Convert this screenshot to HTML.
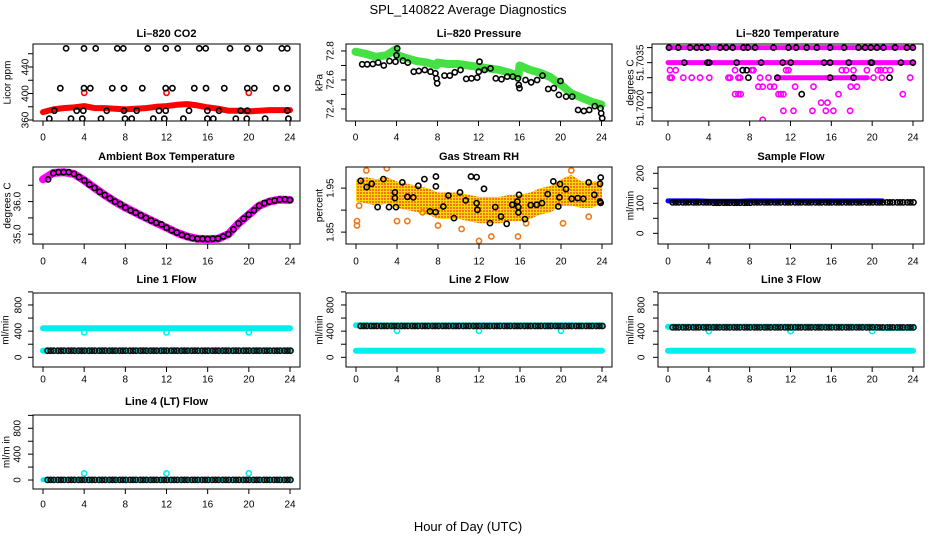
<!DOCTYPE html>
<html><head><meta charset="utf-8"><style>
html,body{margin:0;padding:0;background:#fff}
svg{display:block;font-family:"Liberation Sans",sans-serif}
</style></head><body>
<svg id="chart" width="936" height="540" viewBox="0 0 936 540" xmlns="http://www.w3.org/2000/svg">
<defs>
<pattern id="rhpat" width="3" height="3" patternUnits="userSpaceOnUse"><rect width="3" height="3" fill="#ffd800"/><rect width="2" height="2" fill="#f07818"/></pattern>
</defs>
<rect width="936" height="540" fill="#fff"/>
<text x="468" y="14" text-anchor="middle" font-size="13">SPL_140822  Average Diagnostics</text>
<text x="468" y="531" text-anchor="middle" font-size="13">Hour of Day (UTC)</text>
</svg>
<script>
// ---------- data ----------
const xTicks = [0,4,8,12,16,20,24];
const hourly = [0,1,2,3,4,5,6,7,8,9,10,11,12,13,14,15,16,17,18,19,20,21,22,23,24];

// CO2
const co2Band = [372,376,378,379,381,378,378,377,376,377,378,380,381,383,384,382,379,377,374,374,373,374,375,375,375];
const co2RedH = [4,12,20];
const co2RedV = [401,401,401];
const co2H468 = [2.24,3.98,5.12,7.22,7.8,10.17,11.92,13.09,15.19,15.81,18.17,19.85,21.05,23.2,23.74];
const co2H408 = [1.68,3.98,4.6,6.73,7.87,9.65,11.92,12.57,14.7,15.84,17.62,19.85,20.53,22.67,23.74];
const co2H374 = [1.1,3.27,3.92,6.19,7.87,9.1,11.27,11.92,14.19,15.97,17.1,19.21,19.85,23.74];
const co2H362 = [0.61,2.72,3.82,5.64,7.97,8.62,10.72,11.79,13.64,15.97,16.55,18.73,19.8,21.58,23.84];
const co2Levels = [468,408,374,362];

// Pressure
const presBandH = [0,1,2,3,3.9,4.1,5,6,7,7.9,8,9,10,11,12,13,14,15,15.9,16,17,18,19,20,21,22,23,24];
const presBandV = [72.795,72.78,72.76,72.77,72.81,72.77,72.75,72.73,72.72,72.70,72.72,72.71,72.71,72.70,72.69,72.68,72.67,72.65,72.63,72.70,72.67,72.65,72.62,72.57,72.51,72.48,72.45,72.43];
const presH = [0.65,1.14,1.69,2.21,2.76,3.32,3.9,4.0,4.07,4.62,5.1,5.69,6.18,6.76,7.32,7.8,7.9,7.97,8.68,9.2,9.69,10.24,10.8,11.32,11.87,12.03,12.1,12.59,13.17,13.69,14.24,14.8,15.35,15.84,15.93,16.0,16.59,17.14,17.72,18.24,18.8,19.35,19.84,20.0,20.55,21.14,21.72,22.28,22.8,23.35,23.9,23.97,24.07];
const presV = [72.708,72.708,72.71,72.72,72.70,72.73,72.726,72.77,72.818,72.733,72.72,72.657,72.662,72.669,72.657,72.646,72.611,72.577,72.63,72.63,72.653,72.669,72.607,72.611,72.616,72.657,72.726,72.669,72.68,72.611,72.605,72.623,72.623,72.611,72.566,72.543,72.6,72.584,72.6,72.63,72.538,72.543,72.497,72.593,72.485,72.485,72.393,72.386,72.393,72.42,72.405,72.37,72.336];

// Li-820 temperature (discrete levels)
const tLevels = [51.7040,51.7035,51.70325,51.7030,51.7027,51.70245,51.70217,51.7019,51.7016];
const tBandLevel = [51.7040,51.7035,51.7030];
const tBandStart = [0,0,10.8];
const tBandEnd = [24,24,19.5];
const tPink = [
 [],
 [],
 [0.2,0.75,6.57,7.32,8.2,8.37,11.57,11.8,17.03,17.45,18.17,19.48,20.56,20.85,21.27,21.76],
 [0.2,0.36,1.5,2.32,3.14,4.05,5.92,6.08,6.9,7.06,9.02,9.84,20.13,20.95,23.73],
 [8.86,9.28,10.0,10.39,12.45,14.25,17.9,18.5],
 [6.57,6.9,7.12,10.82,11.05,11.3,16.7,23.0],
 [15.0,15.62],
 [11.3,12.29,14.15,15.46,16.2,17.84],
 [9.28]
];
const tBlack = [
 [0.1,1.01,2.16,2.81,3.3,3.86,5.1,5.69,6.34,7.39,7.81,8.53,10.33,11.8,12.55,13.59,14.58,15.88,17.25,18.66,19.31,19.87,20.46,21.1,22.25,23.4,23.99],
 [1.6,3.86,4.05,6.73,9.12,11.24,12.03,15.29,15.88,17.71,19.87,19.97,22.81,23.99],
 [7.32,7.71],
 [7.88,10.72,15.88,18.17,21.7],
 [],
 [13.1],
 [],[],[]
];

// Ambient box temperature
const ambBand = [36.68,36.88,36.9,36.85,36.65,36.42,36.2,36.0,35.82,35.66,35.5,35.35,35.2,35.05,34.93,34.86,34.85,34.86,35.0,35.33,35.6,35.87,36.0,36.06,36.05];
const ambBlackH = [0.5,1,1.5,2,2.5,3,3.5,4,4.5,5,5.5,6,6.5,7,7.5,8,8.5,9,9.5,10,10.5,11,11.5,12,12.5,13,13.5,14,14.5,15,15.5,16,16.5,17,17.5,18,18.5,19,19.5,20,20.5,21,21.5,22,22.5,23,23.5,24];
const ambBlackV = [36.68,36.87,36.9,36.9,36.9,36.85,36.75,36.65,36.52,36.42,36.3,36.2,36.1,36.0,35.92,35.82,35.73,35.66,35.58,35.5,35.42,35.35,35.3,35.2,35.12,35.05,34.98,34.93,34.88,34.86,34.86,34.85,34.86,34.87,34.93,35.0,35.15,35.33,35.48,35.6,35.73,35.87,35.95,36.0,36.03,36.06,36.07,36.05];

// Gas stream RH
const rhCenter = [1.945,1.945,1.94,1.945,1.935,1.93,1.925,1.92,1.91,1.91,1.91,1.905,1.90,1.90,1.90,1.905,1.905,1.91,1.92,1.925,1.94,1.945,1.935,1.935,1.94];
const rhHalf = [0.025,0.03,0.03,0.03,0.03,0.03,0.03,0.03,0.03,0.03,0.03,0.03,0.03,0.03,0.03,0.03,0.03,0.03,0.03,0.03,0.03,0.035,0.03,0.03,0.025];
const rhOutH = [0.1,0.1,0.3,1,3,4,5,6.5,8,10.3,12,13.2,15.8,16.6,20.2,21,22.7];
const rhOutV = [1.875,1.865,1.91,1.99,1.995,1.875,1.875,1.895,1.865,1.857,1.83,1.84,1.84,1.87,1.87,1.99,1.885];
const rhH = [0.46,1.04,1.53,2.11,2.67,3.22,3.8,3.8,3.9,4.52,5.01,5.59,6.08,6.67,7.22,7.77,7.8,7.8,8.52,9.01,9.56,10.15,10.7,11.22,11.77,11.84,11.77,12.49,13.07,13.59,14.15,14.7,15.25,15.74,15.84,15.84,15.9,16.49,17.04,17.63,18.15,18.7,19.25,19.74,19.84,19.9,20.49,21.04,21.63,22.18,22.7,23.25,23.8,23.87,23.87,23.8];
const rhV = [1.9667,1.9523,1.9598,1.9068,1.9705,1.9068,1.9402,1.9273,1.9068,1.9629,1.9303,1.9288,1.9553,1.9705,1.897,1.8955,1.9765,1.9538,1.9083,1.9333,1.8818,1.9402,1.922,1.9765,1.975,1.9008,1.9159,1.9485,1.8705,1.9068,1.8856,1.8689,1.9121,1.9197,1.9068,1.8947,1.9348,1.8795,1.9114,1.9121,1.9159,1.9364,1.9652,1.9083,1.9288,1.9591,1.9477,1.9258,1.9273,1.9258,1.9629,1.9348,1.9197,1.9165,1.9742,1.9598];

// Sample flow
const sfBlue = [108,108,108,108,107,107,107,107,108,108,108,108,108,108,108,108,108,108,108,108,108,108];
const sfBlack = [103,103,103,103,102,102,102,102,103,103,103,103,103,103,103,103,103,103,103,103,103,103,103,103];

// Line flows
const l1CyanHi = [443,443,443,443,443,443,443,443,443,443,443,443,443,443,443,443,443,443,443,443,443,443,443,443,443];
const l1CyanLo = [100,100,100,100,100,100,100,100,100,100,100,100,100,100,100,100,100,100,100,100,100,100,100,100,100];
const l1Black = [101,101,101,101,101,101,101,101,101,101,101,101,101,101,101,101,101,101,101,101,101,101,101,101];
const l1DipV = [382,382,382];
const l2CyanHi = [490,488,488,488,488,488,488,488,488,488,488,488,488,488,488,488,488,488,488,488,488,488,488,488,488];
const l2CyanLo = [100,100,100,100,100,100,100,100,100,100,100,100,100,100,100,100,100,100,100,100,100,100,100,100,100];
const l2Black = [478,478,478,478,478,478,478,478,478,478,478,478,478,478,478,478,478,478,478,478,478,478,478,478];
const l2DipV = [406,406,406];
const l3CyanHi = [468,468,468,468,468,468,468,468,468,468,468,468,468,468,468,468,468,468,468,468,468,450,450,450,450];
const l3CyanLo = [100,100,100,100,100,100,100,100,100,100,100,100,100,100,100,100,100,100,100,100,100,100,100,100,100];
const l3Black = [458,458,458,458,458,458,458,458,458,458,458,458,458,458,458,458,458,458,458,458,458,458,458,458];
const l3DipV = [401,401,401];
const l4Cyan = [5,5,5,5,5,5,5,5,5,5,5,5,5,5,5,5,5,5,5,5,5,5,5,5,5];
const l4Black = [2,2,2,2,2,2,2,2,2,2,2,2,2,2,2,2,2,2,2,2,2,2,2,2];
const l4DipV = [103,103,103];
const dipH = [4,12,20];
const blackOffsets = [0.45,0.75,1.05];

// ---------- drawing ----------
const NS = 'http://www.w3.org/2000/svg';
const svg = document.getElementById('chart');
function mk(tag, parent){ const e = document.createElementNS(NS, tag); parent.appendChild(e); return e; }

function makePanel(o){
  const g = mk('g', svg);
  
  
  const [l,t,r,b] = o.box;
  const xs = h => o.x0 + (o.x24 - o.x0) * h / 24;
  const ys = v => b - (v - o.ybot) / (o.ytop - o.ybot) * (b - t);
  const plot = mk('g', g);
  
  
  const cp = mk('clipPath', g); cp.setAttribute('id', 'cp-' + o.name);
  const cr = mk('rect', cp); cr.setAttribute('x', l); cr.setAttribute('y', t); cr.setAttribute('width', r - l); cr.setAttribute('height', b - t);
  plot.setAttribute('clip-path', 'url(#cp-' + o.name + ')');
  const ti = mk('text', g);
  ti.setAttribute('x', (l + r) / 2); ti.setAttribute('y', o.titleY);
  ti.setAttribute('text-anchor', 'middle'); ti.setAttribute('font-size', '11'); ti.setAttribute('font-weight', 'bold');
  ti.setAttribute('dominant-baseline', 'middle');
  
  
  ti.textContent = o.title;
  const xa = mk('g', g);
  
  
  xTicks.forEach(v => {
    const x = xs(v);
    const tk = mk('line', xa);
    tk.setAttribute('x1', x); tk.setAttribute('x2', x); tk.setAttribute('y1', b); tk.setAttribute('y2', b + 5);
    tk.setAttribute('stroke', '#000'); tk.setAttribute('stroke-width', '1');
    
    
    const tx = mk('text', xa);
    tx.setAttribute('x', x); tx.setAttribute('y', o.xlabY); tx.setAttribute('text-anchor', 'middle');
    tx.setAttribute('dominant-baseline', 'middle'); tx.setAttribute('font-size', '10');
    
    
    tx.textContent = String(v);
  });
  const ya = mk('g', g);
  
  
  o.yticks.forEach(v => {
    const y = ys(v);
    const tk = mk('line', ya);
    tk.setAttribute('x1', l - 5); tk.setAttribute('x2', l); tk.setAttribute('y1', y); tk.setAttribute('y2', y);
    tk.setAttribute('stroke', '#000'); tk.setAttribute('stroke-width', '1');
    
    
  });
  o.ylabels.forEach((v, i) => {
    const y = ys(v);
    const tx = mk('text', ya);
    tx.setAttribute('transform', 'translate(' + o.ylabX + ',' + y + ') rotate(-90)');
    tx.setAttribute('text-anchor', 'middle'); tx.setAttribute('dominant-baseline', 'middle');
    tx.setAttribute('font-size', '10');
    
    
    tx.textContent = o.ylabelText ? o.ylabelText[i] : String(v);
  });
  const yt = mk('text', ya);
  yt.setAttribute('transform', 'translate(' + o.ytitleX + ',' + (t + b) / 2 + ') rotate(-90)');
  yt.setAttribute('text-anchor', 'middle'); yt.setAttribute('dominant-baseline', 'middle');
  yt.setAttribute('font-size', '10');
  
  
  yt.textContent = o.ytitle;
  const p = {g, plot, xs, ys, box: o.box};
  p.finish = function(){
    const bx = mk('rect', g);
    bx.setAttribute('x', l); bx.setAttribute('y', t); bx.setAttribute('width', r - l); bx.setAttribute('height', b - t);
    bx.setAttribute('fill', 'none'); bx.setAttribute('stroke', '#000'); bx.setAttribute('stroke-width', '1');
    
    
  };
  return p;
}

function band(p, hs, vs, color, w, name){
  const pl = mk('polyline', p.plot);
  pl.setAttribute('points', hs.map((h, i) => p.xs(h).toFixed(1) + ',' + p.ys(vs[i]).toFixed(1)).join(' '));
  pl.setAttribute('fill', 'none'); pl.setAttribute('stroke', color); pl.setAttribute('stroke-width', w);
  pl.setAttribute('stroke-linejoin', 'round'); pl.setAttribute('stroke-linecap', 'round');
  
  
}
function pts(p, hs, vs, color, name, r){
  const g = mk('g', p.plot);
  
  
  hs.forEach((h, i) => {
    const c = mk('circle', g);
    c.setAttribute('cx', p.xs(h).toFixed(1)); c.setAttribute('cy', p.ys(vs[i]).toFixed(1));
    c.setAttribute('r', r || 2.6); c.setAttribute('fill', 'none');
    c.setAttribute('stroke', color); c.setAttribute('stroke-width', '1.6');
    
    
  });
}
function hourlyBlack(p, vals, color, name){
  const hs = [], vs = [];
  vals.forEach((v, i) => blackOffsets.forEach(off => { hs.push(i + off); vs.push(v); }));
  pts(p, hs, vs, color, name);
}

// Panel 1: CO2
const p1 = makePanel({name:'panel-li820-co2', title:'Li\u2013820 CO2', box:[33,44,300,121], x0:43, x24:290, ybot:358.5, ytop:474.7,
  yticks:[360,380,400,420,440,460], ylabels:[360,400,440], ylabX:26, ytitle:'Licor ppm', ytitleX:8, titleY:34, xlabY:138});
band(p1, hourly, co2Band, '#ff0000', 6, 'co2-red-series');
pts(p1, co2RedH, co2RedV, '#ff0000', 'co2-red-outliers');
[co2H468, co2H408, co2H374, co2H362].forEach((hs, k) => pts(p1, hs, hs.map(() => co2Levels[k]), '#000', 'co2-black-series'));
p1.finish();

// Panel 2: Pressure
const p2 = makePanel({name:'panel-li820-pressure', title:'Li\u2013820 Pressure', box:[346,44,612,121], x0:355.5, x24:601.5, ybot:72.317, ytop:72.848,
  yticks:[72.4,72.5,72.6,72.7,72.8], ylabels:[72.4,72.6,72.8], ylabX:331, ytitle:'kPa', ytitleX:320, titleY:34, xlabY:138});
band(p2, presBandH, presBandV, '#44e044', 8, 'pressure-green-series');
pts(p2, presH, presV, '#000', 'pressure-black-series');
p2.finish();

// Panel 3: Li-820 temperature
const p3 = makePanel({name:'panel-li820-temperature', title:'Li\u2013820 Temperature', box:[652,44,923,121], x0:668, x24:913, ybot:51.70156, ytop:51.70412,
  yticks:[51.7040,51.7035,51.7030,51.7025,51.7020], ylabels:[51.7035,51.7020],
  ylabelText:['51.7035','51.7020'], ylabX:641, ytitle:'degrees C', ytitleX:631, titleY:34, xlabY:138});
tBandLevel.forEach((lv, k) => band(p3, [tBandStart[k], tBandEnd[k]], [lv, lv], '#ff00ff', 5, 'temperature-pink-band'));
tPink.forEach((hs, k) => pts(p3, hs, hs.map(() => tLevels[k]), '#ff00ff', 'temperature-pink-series'));
tBlack.forEach((hs, k) => pts(p3, hs, hs.map(() => tLevels[k]), '#000', 'temperature-black-series'));
p3.finish();

// Panel 4: ambient box temperature
const p4 = makePanel({name:'panel-ambient-box-temperature', title:'Ambient Box Temperature', box:[33,167,300,244], x0:43, x24:290, ybot:34.70, ytop:37.06,
  yticks:[35,35.5,36,36.5], ylabels:[35,36], ylabelText:['35.0','36.0'], ylabX:18, ytitle:'degrees C', ytitleX:8, titleY:157, xlabY:262});
band(p4, hourly, ambBand, '#ff00ff', 8, 'ambient-magenta-series');
pts(p4, ambBlackH, ambBlackV, '#000', 'ambient-black-series');
p4.finish();

// Panel 5: RH
const p5 = makePanel({name:'panel-gas-stream-rh', title:'Gas Stream RH', box:[346,167,612,244], x0:356, x24:602, ybot:1.823, ytop:1.998,
  yticks:[1.85,1.90,1.95], ylabels:[1.85,1.95], ylabX:331, ytitle:'percent', ytitleX:320, titleY:157, xlabY:262});
{
  const poly = mk('polygon', p5.plot);
  const up = hourly.map((h, i) => p5.xs(h).toFixed(1) + ',' + p5.ys(rhCenter[i] + rhHalf[i]).toFixed(1));
  const dn = hourly.map((h, i) => p5.xs(h).toFixed(1) + ',' + p5.ys(rhCenter[i] - rhHalf[i]).toFixed(1)).reverse();
  poly.setAttribute('points', up.concat(dn).join(' '));
  poly.setAttribute('fill', 'url(#rhpat)');
  
  
}
pts(p5, rhOutH, rhOutV, '#f07818', 'rh-orange-outliers');
pts(p5, rhH, rhV, '#000', 'rh-black-series');
p5.finish();

// Panel 6: sample flow
const p6 = makePanel({name:'panel-sample-flow', title:'Sample Flow', box:[658,167,924,244], x0:668, x24:913, ybot:-35.6, ytop:221,
  yticks:[0,50,100,150,200], ylabels:[0,100,200], ylabX:641, ytitle:'ml/min', ytitleX:631, titleY:157, xlabY:262});
band(p6, sfBlue.map((v, i) => i), sfBlue, '#0000ff', 5, 'sample-flow-blue-series');
hourlyBlack(p6, sfBlack, '#000', 'sample-flow-black-series');
p6.finish();

// Flow panels
function flowPanel(cfg, hi, lo, blk, dipV){
  const p = makePanel(cfg);
  band(p, hourly, hi, '#00eeee', 6, 'cyan-high-series');
  band(p, hourly, lo, '#00eeee', 6, 'cyan-low-series');
  pts(p, dipH, dipV, '#00eeee', 'cyan-dip-points');
  hourlyBlack(p, blk, '#111', 'black-flow-series');
  p.finish();
  return p;
}
const flowTicks = [0,200,400,600,800,1000];
flowPanel({name:'panel-line1-flow', title:'Line 1 Flow', box:[33,293,300,367], x0:43, x24:290, ybot:-148, ytop:983,
  yticks:flowTicks, ylabels:[0,400,800], ylabX:19, ytitle:'ml/min', ytitleX:6, titleY:280, xlabY:380}, l1CyanHi, l1CyanLo, l1Black, l1DipV);
flowPanel({name:'panel-line2-flow', title:'Line 2 Flow', box:[346,293,612,367], x0:356, x24:602, ybot:-148, ytop:983,
  yticks:flowTicks, ylabels:[0,400,800], ylabX:331, ytitle:'ml/min', ytitleX:320, titleY:280, xlabY:380}, l2CyanHi, l2CyanLo, l2Black, l2DipV);
flowPanel({name:'panel-line3-flow', title:'Line 3 Flow', box:[658,293,924,367], x0:668, x24:913, ybot:-148, ytop:983,
  yticks:flowTicks, ylabels:[0,400,800], ylabX:642, ytitle:'ml/min', ytitleX:631, titleY:280, xlabY:380}, l3CyanHi, l3CyanLo, l3Black, l3DipV);
{
  const p = makePanel({name:'panel-line4-flow', title:'Line 4 (LT) Flow', box:[33,415,300,489], x0:43, x24:290, ybot:-139, ytop:1006,
    yticks:flowTicks, ylabels:[0,400,800], ylabX:18, ytitle:'ml/m in', ytitleX:7, titleY:402, xlabY:505});
  band(p, hourly, l4Cyan, '#00eeee', 5, 'cyan-series');
  pts(p, dipH, l4DipV, '#00eeee', 'cyan-dip-points');
  hourlyBlack(p, l4Black, '#111', 'black-flow-series');
  p.finish();
}
</script>
</body></html>
